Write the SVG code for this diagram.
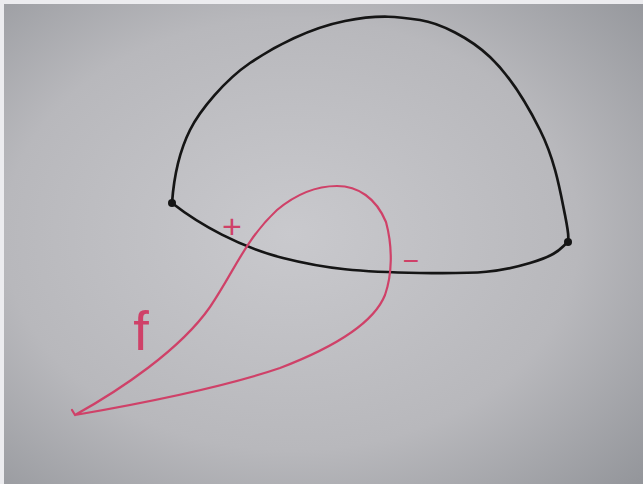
<svg xmlns="http://www.w3.org/2000/svg" width="643" height="484" viewBox="0 0 643 484">
  <defs>
    <radialGradient id="paper" cx="0.45" cy="0.48" r="0.75">
      <stop offset="0" stop-color="#c9c9cd"/>
      <stop offset="0.6" stop-color="#b8b8bc"/>
      <stop offset="1" stop-color="#94969b"/>
    </radialGradient>
    <style>
      .ink { fill: none; stroke: #151515; stroke-width: 2.7; stroke-linecap: round; stroke-linejoin: round; }
      .red { fill: none; stroke: #cf4168; stroke-width: 2.2; stroke-linecap: round; stroke-linejoin: round; }
      .lbl { fill: #cf4168; font-family: "Liberation Sans", Arial, sans-serif; text-anchor: middle; }
    </style>
  </defs>
  <rect x="0" y="0" width="643" height="484" fill="#ececef"/>
  <rect x="4" y="4" width="639" height="480" fill="url(#paper)"/>

  <g id="dome">
    <path class="ink" d="M172,203 C174,175 180,150 190,130 S225,80 250,63 S310,28 345,21 S400,17 420,20 S470,38 490,57 S525,100 540,130 S560,190 565,215 S568,235 568,242"/>
    <path class="ink" d="M172,203 C200,225 240,247 283,258 S360,272 420,273 S500,272 530,263 S560,248 568,242"/>
    <circle cx="172" cy="203" r="4" fill="#151515"/>
    <circle cx="568" cy="242" r="4" fill="#151515"/>
  </g>

  <g id="loop-f">
    <path class="red" d="M75,415 C120,390 180,350 210,307 C235,270 245,240 277,210 C295,195 315,186 337,186 C358,186 376,198 386,222 C393,248 392,275 385,295 C375,320 340,345 280,368 C230,385 150,402 75,415 L72,410"/>
  </g>

  <g id="labels">
    <text class="lbl" x="232" y="238" font-size="34">+</text>
    <text class="lbl" x="411" y="270" font-size="28">−</text>
    <text class="lbl" x="141" y="350" font-size="56">f</text>
  </g>
</svg>
